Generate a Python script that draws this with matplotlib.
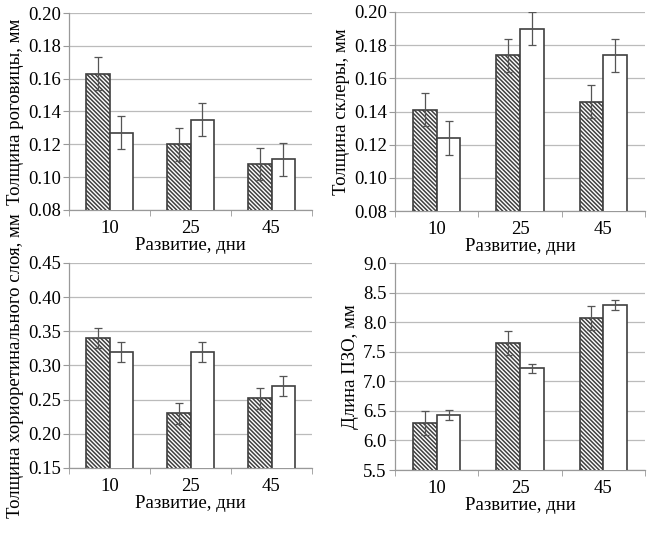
import matplotlib.pyplot as plt
import numpy as np

plt.rcParams['font.family'] = ['Liberation Serif', 'DejaVu Serif']
plt.rcParams['hatch.linewidth'] = 1.1
plt.rcParams['hatch.color'] = '#303030'

days = ['10', '25', '45']

cornea_a = [0.163, 0.120, 0.108]
cornea_b = [0.127, 0.135, 0.111]
cornea_err_a = [0.010, 0.010, 0.010]
cornea_err_b = [0.010, 0.010, 0.010]

sclera_a = [0.141, 0.174, 0.146]
sclera_b = [0.124, 0.190, 0.174]
sclera_err_a = [0.010, 0.010, 0.010]
sclera_err_b = [0.010, 0.010, 0.010]

chorio_a = [0.340, 0.230, 0.252]
chorio_b = [0.320, 0.320, 0.270]
chorio_err_a = [0.015, 0.015, 0.015]
chorio_err_b = [0.015, 0.015, 0.015]

axial_a = [6.29, 7.65, 8.07]
axial_b = [6.43, 7.22, 8.29]
axial_err_a = [0.20, 0.20, 0.20]
axial_err_b = [0.08, 0.08, 0.09]

panels = [
    (cornea_a, cornea_b, cornea_err_a, cornea_err_b, 'Толщина роговицы, мм',
     (0.08, 0.20), np.arange(0.08, 0.201, 0.02), '{:.2f}'),
    (sclera_a, sclera_b, sclera_err_a, sclera_err_b, 'Толщина склеры, мм',
     (0.08, 0.20), np.arange(0.08, 0.201, 0.02), '{:.2f}'),
    (chorio_a, chorio_b, chorio_err_a, chorio_err_b, 'Толщина хориоретинального слоя, мм',
     (0.15, 0.45), np.arange(0.15, 0.451, 0.05), '{:.2f}'),
    (axial_a, axial_b, axial_err_a, axial_err_b, 'Длина ПЗО, мм',
     (5.5, 9.0), np.arange(5.5, 9.01, 0.5), '{:.1f}'),
]

# axes boxes in pixels: left, top, right, bottom
boxes = [(69, 13, 312, 210), (395, 12, 645, 211),
         (69, 263, 312, 468), (395, 263, 645, 470)]

W, H = 657, 533
fig = plt.figure(figsize=(W / 100, H / 100), dpi=100)

x = np.arange(len(days))
w = 0.285
fs = 13.5
for (a, b, ea, eb, ylabel, ylim, yticks, fmt), (l, t, r, bt) in zip(panels, boxes):
    ax = fig.add_axes([l / W, 1 - bt / H, (r - l) / W, (bt - t) / H])
    ax.bar(x - w / 2, a, w, color='white', edgecolor='#404040', hatch='\\' * 8,
           linewidth=1.2, zorder=3)
    ax.bar(x + w / 2, b, w, color='white', edgecolor='#404040', linewidth=1.2, zorder=3)
    ax.errorbar(x - w / 2, a, yerr=ea, fmt='none', ecolor='#555555', elinewidth=0.9,
                capsize=3, capthick=0.9, zorder=4)
    ax.errorbar(x + w / 2, b, yerr=eb, fmt='none', ecolor='#555555', elinewidth=0.9,
                capsize=3, capthick=0.9, zorder=4)
    ax.set_xlim(-0.5, 2.5)
    ax.set_ylim(*ylim)
    ax.set_yticks(yticks)
    ax.set_yticklabels([fmt.format(v) for v in yticks])
    ax.set_xticks(x)
    ax.set_xticklabels(days)
    ax.set_xticks([-0.5, 0.5, 1.5, 2.5], minor=True)
    ax.tick_params(axis='x', which='major', length=0, labelsize=fs, pad=7)
    ax.tick_params(axis='x', which='minor', length=4, color='#999999')
    ax.tick_params(axis='y', length=4, color='#999999', labelsize=fs, pad=2)
    ax.yaxis.grid(True, color='#bbbbbb', linewidth=0.9, zorder=0)
    ax.set_axisbelow(True)
    for s in ['top', 'right']:
        ax.spines[s].set_visible(False)
    for s in ['left', 'bottom']:
        ax.spines[s].set_color('#999999')
        ax.spines[s].set_linewidth(0.9)
    ax.set_xlabel('Развитие, дни', fontsize=fs, labelpad=0)
    ax.set_ylabel(ylabel, fontsize=fs, labelpad=3)

fig.savefig('out.png', dpi=100)
